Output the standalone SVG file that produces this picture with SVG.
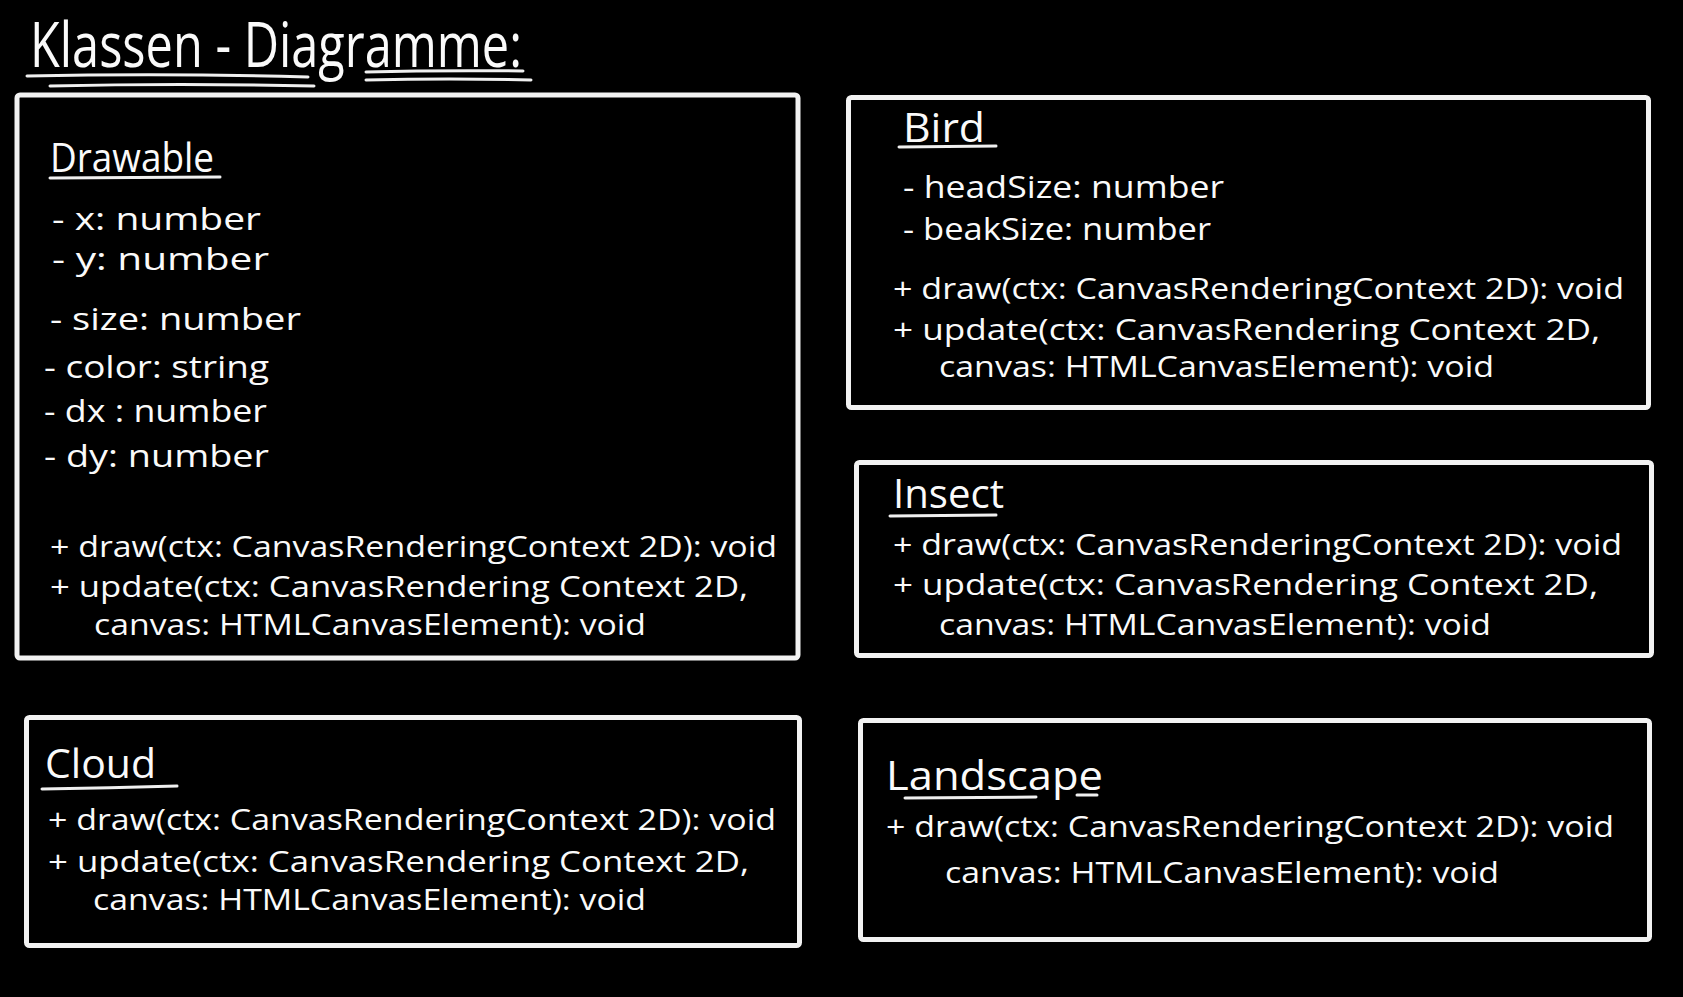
<svg xmlns="http://www.w3.org/2000/svg" width="1683" height="997" viewBox="0 0 1683 997">
<style>
.bg{fill:#000}
.box{fill:#000;stroke:#f2f2f2;stroke-width:5;stroke-linejoin:round}
.ul{fill:none;stroke:#f0f0f0;stroke-width:3;stroke-linecap:round}
text{fill:#fafafa;font-family:"Open Sans","Liberation Sans",sans-serif;font-weight:400}
.title{font-size:62px}
.name{font-size:40px}
.attr{font-size:31px}
.meth{font-size:30px}
</style>
<rect class="bg" x="0" y="0" width="1683" height="997"/>
<g id="title">
<text class="title" x="30" y="67" textLength="492" lengthAdjust="spacingAndGlyphs">Klassen - Diagramme:</text>
<path class="ul" d="M27 76 Q170 73 308 77"/>
<path class="ul" d="M50 86 Q180 83 314 86"/>
<path class="ul" d="M366 72 Q440 70 523 71"/>
<path class="ul" d="M366 80 Q450 78 531 80"/>
</g>
<g id="connectors"></g>
<g id="drawable">
<rect class="box" x="17" y="95" width="781" height="563" rx="3"/>
<text class="name" x="50" y="172" textLength="164" lengthAdjust="spacingAndGlyphs">Drawable</text>
<path class="ul" d="M50 178 L220 177"/>
<text class="attr" x="52" y="230" textLength="209" lengthAdjust="spacingAndGlyphs">- x: number</text>
<text class="attr" x="52" y="270" textLength="217" lengthAdjust="spacingAndGlyphs">- y: number</text>
<text class="attr" x="50" y="330" textLength="251" lengthAdjust="spacingAndGlyphs">- size: number</text>
<text class="attr" x="44" y="378" textLength="225" lengthAdjust="spacingAndGlyphs">- color: string</text>
<text class="attr" x="44" y="422" textLength="223" lengthAdjust="spacingAndGlyphs">- dx : number</text>
<text class="attr" x="44" y="467" textLength="225" lengthAdjust="spacingAndGlyphs">- dy: number</text>
<text class="meth" x="50" y="557" textLength="727" lengthAdjust="spacingAndGlyphs">+ draw(ctx: CanvasRenderingContext 2D): void</text>
<text class="meth" x="50" y="597" textLength="698" lengthAdjust="spacingAndGlyphs">+ update(ctx: CanvasRendering Context 2D,</text>
<text class="meth" x="94" y="635" textLength="552" lengthAdjust="spacingAndGlyphs">canvas: HTMLCanvasElement): void</text>
</g>
<g id="bird">
<rect class="box" x="848.5" y="97.5" width="800" height="310" rx="3"/>
<text class="name" x="903" y="142" textLength="82" lengthAdjust="spacingAndGlyphs">Bird</text>
<path class="ul" d="M899 147 L996 146"/>
<text class="attr" x="903" y="198" textLength="321" lengthAdjust="spacingAndGlyphs">- headSize: number</text>
<text class="attr" x="903" y="240" textLength="308" lengthAdjust="spacingAndGlyphs">- beakSize: number</text>
<text class="meth" x="893" y="299" textLength="731" lengthAdjust="spacingAndGlyphs">+ draw(ctx: CanvasRenderingContext 2D): void</text>
<text class="meth" x="893" y="340" textLength="707" lengthAdjust="spacingAndGlyphs">+ update(ctx: CanvasRendering Context 2D,</text>
<text class="meth" x="939" y="377" textLength="555" lengthAdjust="spacingAndGlyphs">canvas: HTMLCanvasElement): void</text>
</g>
<g id="insect">
<rect class="box" x="856.5" y="462.5" width="795" height="193" rx="3"/>
<text class="name" x="893" y="508" textLength="111" lengthAdjust="spacingAndGlyphs">Insect</text>
<path class="ul" d="M890 516 L996 515"/>
<text class="meth" x="893" y="555" textLength="729" lengthAdjust="spacingAndGlyphs">+ draw(ctx: CanvasRenderingContext 2D): void</text>
<text class="meth" x="893" y="595" textLength="705" lengthAdjust="spacingAndGlyphs">+ update(ctx: CanvasRendering Context 2D,</text>
<text class="meth" x="939" y="635" textLength="552" lengthAdjust="spacingAndGlyphs">canvas: HTMLCanvasElement): void</text>
</g>
<g id="cloud">
<rect class="box" x="26.5" y="717.5" width="773" height="228" rx="3"/>
<text class="name" x="45" y="778" textLength="111" lengthAdjust="spacingAndGlyphs">Cloud</text>
<path class="ul" d="M42 789 Q110 788 177 786"/>
<text class="meth" x="48" y="830" textLength="728" lengthAdjust="spacingAndGlyphs">+ draw(ctx: CanvasRenderingContext 2D): void</text>
<text class="meth" x="48" y="872" textLength="701" lengthAdjust="spacingAndGlyphs">+ update(ctx: CanvasRendering Context 2D,</text>
<text class="meth" x="93" y="910" textLength="553" lengthAdjust="spacingAndGlyphs">canvas: HTMLCanvasElement): void</text>
</g>
<g id="landscape">
<rect class="box" x="860.5" y="720.5" width="789" height="219" rx="3"/>
<text class="name" x="886" y="790" textLength="217" lengthAdjust="spacingAndGlyphs">Landscape</text>
<path class="ul" d="M905 798 L1036 797"/>
<path class="ul" d="M1077 795 L1097 795"/>
<text class="meth" x="886" y="837" textLength="728" lengthAdjust="spacingAndGlyphs">+ draw(ctx: CanvasRenderingContext 2D): void</text>
<text class="meth" x="945" y="883" textLength="554" lengthAdjust="spacingAndGlyphs">canvas: HTMLCanvasElement): void</text>
</g>
</svg>
